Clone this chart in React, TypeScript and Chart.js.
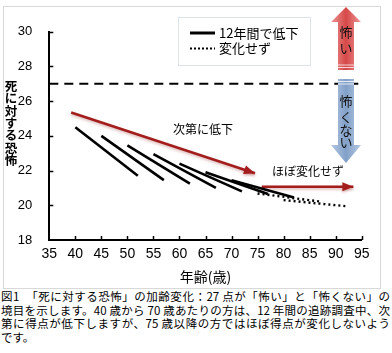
import React, { useEffect, useRef } from "react";
import { Chart, registerables } from "chart.js";

Chart.register(...registerables);

// ---------- data ----------
const xTickValues = [35, 40, 45, 50, 55, 60, 65, 70, 75, 80, 85, 90, 95];
const yTickValues = [18, 20, 22, 24, 26, 28, 30];

const declineStartAges = [40, 45, 50, 55, 60, 65, 70];
const declineEndAges = [52, 57, 62, 67, 72, 77, 82];
const declineStartScores = [24.5, 24.0, 23.45, 22.95, 22.4, 21.9, 21.45];
const declineEndScores = [21.7, 21.45, 21.25, 21.0, 20.8, 20.65, 20.45];

const flatStartAges = [75, 80];
const flatEndAges = [87, 92];
const flatStartScores = [20.68, 20.3];
const flatEndScores = [20.22, 19.95];

const boundaryScore = 27;
const boundaryAges = [35, 95];

const trendArrowAges = [
  [39.2, 74.5],
  [75.8, 93.4],
];
const trendArrowScores = [
  [25.35, 21.85],
  [21.07, 21.07],
];

const legendLabels = ["12年間で低下", "変化せず"];
const yTitle = "死に対する恐怖";
const xTitle = "年齢(歳)";
const declineLabel = "次第に低下";
const flatLabel = "ほぼ変化せず";
const scaryChars = ["怖", "い"];
const notScaryChars = ["怖", "く", "な", "い"];
const captionLines = [
  "図1　「死に対する恐怖」の加齢変化：27 点が「怖い」と「怖くない」の",
  "境目を示します。40 歳から 70 歳あたりの方は、12 年間の追跡調査中、次",
  "第に得点が低下しますが、75 歳以降の方ではほぼ得点が変化しないよう",
  "です。",
];

const CJK = '"Noto Sans CJK JP", "Noto Sans", sans-serif';
const NUM = '"Liberation Sans Narrow", "Liberation Sans", Arial, sans-serif';
const RED = "#a31d1d";

function bigArrow(
  ctx: CanvasRenderingContext2D,
  cx: number,
  tipY: number,
  headY: number,
  endY: number,
  halfShaft: number,
  halfHead: number,
  dark: string,
  light: string
) {
  const g = ctx.createLinearGradient(cx - halfHead, 0, cx + halfHead, 0);
  g.addColorStop(0, light);
  g.addColorStop(0.5, dark);
  g.addColorStop(1, light);
  ctx.save();
  ctx.fillStyle = g;
  ctx.beginPath();
  ctx.moveTo(cx, tipY);
  ctx.lineTo(cx + halfHead, headY);
  ctx.lineTo(cx + halfShaft, headY);
  ctx.lineTo(cx + halfShaft, endY);
  ctx.lineTo(cx - halfShaft, endY);
  ctx.lineTo(cx - halfShaft, headY);
  ctx.lineTo(cx - halfHead, headY);
  ctx.closePath();
  ctx.fill();
  ctx.strokeStyle = "rgba(255,255,255,0.75)";
  ctx.lineWidth = 1;
  const dir = endY > headY ? -1 : 1;
  for (const off of [2.5, 5]) {
    ctx.beginPath();
    ctx.moveTo(cx - halfShaft, endY + dir * off);
    ctx.lineTo(cx + halfShaft, endY + dir * off);
    ctx.stroke();
  }
  ctx.restore();
}

const overlayPlugin = {
  id: "overlay",
  beforeDatasetDraw(chart: any, args: any) {
    const ds = chart.data.datasets[args.index];
    if (ds.kind === "trend") {
      const ctx = chart.ctx;
      ctx.save();
      ctx.shadowColor = "rgba(150,40,40,0.35)";
      ctx.shadowBlur = 3;
      ctx.shadowOffsetY = 1.5;
    }
  },
  afterDatasetDraw(chart: any, args: any) {
    const ds = chart.data.datasets[args.index];
    if (ds.kind !== "trend") return;
    const ctx = chart.ctx;
    const meta = chart.getDatasetMeta(args.index);
    const p0 = meta.data[0];
    const p1 = meta.data[1];
    const ang = Math.atan2(p1.y - p0.y, p1.x - p0.x);
    const len = 11;
    const hw = 4.5;
    ctx.fillStyle = RED;
    ctx.beginPath();
    ctx.moveTo(p1.x, p1.y);
    ctx.lineTo(
      p1.x - len * Math.cos(ang) + hw * Math.sin(ang),
      p1.y - len * Math.sin(ang) - hw * Math.cos(ang)
    );
    ctx.lineTo(
      p1.x - len * Math.cos(ang) - hw * Math.sin(ang),
      p1.y - len * Math.sin(ang) + hw * Math.cos(ang)
    );
    ctx.closePath();
    ctx.fill();
    ctx.restore();
  },
  afterDraw(chart: any) {
    const ctx: CanvasRenderingContext2D = chart.ctx;
    const xs = chart.scales.x;
    const ys = chart.scales.y;
    const area = chart.chartArea;
    ctx.save();

    // inner tick marks
    ctx.strokeStyle = "#000";
    ctx.lineWidth = 1.5;
    xTickValues.forEach((v) => {
      if (v === xTickValues[0]) return;
      const px = Math.round(xs.getPixelForValue(v)) + 0.5;
      ctx.beginPath();
      ctx.moveTo(px, area.bottom);
      ctx.lineTo(px, area.bottom - 4);
      ctx.stroke();
    });
    yTickValues.forEach((v) => {
      if (v === yTickValues[0]) return;
      const py = Math.round(ys.getPixelForValue(v)) + 0.5;
      ctx.beginPath();
      ctx.moveTo(area.left, py);
      ctx.lineTo(area.left + 4, py);
      ctx.stroke();
    });

    // vertical stacked y title
    ctx.fillStyle = "#000";
    ctx.font = `bold 12.5px ${CJK}`;
    ctx.textAlign = "center";
    ctx.textBaseline = "middle";
    Array.from(yTitle).forEach((ch, i) => {
      ctx.fillText(ch, 7, 79 + i * 12.4);
    });

    // legend
    ctx.save();
    ctx.strokeStyle = "#b8c6da";
    ctx.lineWidth = 1;
    ctx.setLineDash([1, 1]);
    ctx.strokeRect(174.5, 10.5, 132, 48);
    ctx.restore();
    ctx.strokeStyle = "#000";
    ctx.lineWidth = 3;
    ctx.beginPath();
    ctx.moveTo(186, 26);
    ctx.lineTo(211, 26);
    ctx.stroke();
    ctx.save();
    ctx.lineWidth = 2;
    ctx.setLineDash([2, 2]);
    ctx.beginPath();
    ctx.moveTo(186, 41.5);
    ctx.lineTo(211, 41.5);
    ctx.stroke();
    ctx.restore();
    ctx.font = `13px ${CJK}`;
    ctx.textAlign = "left";
    ctx.fillText(legendLabels[0], 215, 26);
    ctx.fillText(legendLabels[1], 215, 41.5);

    // annotation labels
    ctx.font = `12px ${CJK}`;
    ctx.fillText(declineLabel, 169, 122);
    ctx.fillText(flatLabel, 268, 164.5);

    // big up / down arrows
    bigArrow(ctx, 342, 0, 15, 63, 8, 15, "rgb(214,72,72)", "rgb(238,150,150)");
    bigArrow(ctx, 342, 156, 138, 72, 8, 15, "rgb(130,160,200)", "rgb(180,200,226)");
    ctx.fillStyle = "#111";
    ctx.font = `13px ${CJK}`;
    ctx.textAlign = "center";
    [25.5, 41].forEach((y, i) => ctx.fillText(scaryChars[i], 342, y));
    [94, 109.7, 123, 135.5].forEach((y, i) => ctx.fillText(notScaryChars[i], 342, y));

    ctx.restore();
  },
};

function line(ages: number[], scores: number[], extra: Record<string, any>) {
  return {
    data: ages.map((a, i) => ({ x: a, y: scores[i] })),
    pointRadius: 0,
    fill: false,
    tension: 0,
    ...extra,
  };
}

export default function App() {
  const ref = useRef<HTMLCanvasElement | null>(null);

  useEffect(() => {
    if (!ref.current) return;
    const datasets: any[] = [];
    datasets.push(
      line(boundaryAges, [boundaryScore, boundaryScore], {
        borderColor: "#000",
        borderWidth: 2,
        borderDash: [9, 6],
        kind: "boundary",
      })
    );
    flatStartAges.forEach((a, i) => {
      datasets.push(
        line([a, flatEndAges[i]], [flatStartScores[i], flatEndScores[i]], {
          borderColor: "#000",
          borderWidth: 2.4,
          borderDash: [2, 3],
          kind: "flat",
        })
      );
    });
    declineStartAges.forEach((a, i) => {
      datasets.push(
        line([a, declineEndAges[i]], [declineStartScores[i], declineEndScores[i]], {
          borderColor: "#000",
          borderWidth: 2.6,
          kind: "decline",
        })
      );
    });
    trendArrowAges.forEach((ages, i) => {
      datasets.push(
        line(ages, trendArrowScores[i], {
          borderColor: RED,
          borderWidth: 2.6,
          kind: "trend",
        })
      );
    });

    const chart = new Chart(ref.current, {
      type: "line",
      data: { datasets },
      plugins: [overlayPlugin],
      options: {
        animation: false,
        responsive: false,
        layout: { padding: { left: 0, top: 14, right: 18.3, bottom: 0 } },
        plugins: {
          legend: { display: false },
          tooltip: { enabled: false },
        },
        scales: {
          x: {
            type: "linear",
            min: xTickValues[0],
            max: xTickValues[xTickValues.length - 1],
            afterBuildTicks: (s: any) => {
              s.ticks = xTickValues.map((v) => ({ value: v }));
            },
            afterFit: (s: any) => {
              s.height = 48;
            },
            grid: { display: false, drawTicks: false },
            border: { display: true, color: "#000", width: 2 },
            ticks: {
              color: "#000",
              font: { family: NUM, size: 14 },
              padding: 6,
              maxRotation: 0,
              autoSkip: false,
            },
            title: {
              display: true,
              text: xTitle,
              color: "#000",
              font: { family: CJK, size: 14 },
              padding: { top: 0, bottom: 3 },
            },
          },
          y: {
            type: "linear",
            min: yTickValues[0],
            max: yTickValues[yTickValues.length - 1],
            afterBuildTicks: (s: any) => {
              s.ticks = yTickValues.map((v) => ({ value: v }));
            },
            afterFit: (s: any) => {
              s.width = 45.3;
            },
            grid: { display: false, drawTicks: false },
            border: { display: true, color: "#000", width: 2 },
            ticks: {
              color: "#000",
              font: { family: NUM, size: 13 },
              padding: 17,
              autoSkip: false,
            },
          },
        },
      } as any,
    });
    return () => chart.destroy();
  }, []);

  return (
    <div
      style={{
        position: "absolute",
        left: 0,
        top: 0,
        width: 392,
        height: 353,
        background: "#fff",
        overflow: "hidden",
      }}
    >
      <div
        style={{
          position: "absolute",
          left: 3,
          top: 6,
          width: 378,
          height: 283,
          border: "1px solid #d9d9d9",
          boxSizing: "border-box",
        }}
      >
        <canvas
          ref={ref}
          width={376}
          height={281}
          style={{ width: 376, height: 281, display: "block" }}
        />
      </div>
      <div
        style={{
          position: "absolute",
          left: 1,
          top: 290,
          width: 389,
          fontFamily: CJK,
          fontSize: 11.5,
          lineHeight: "13.7px",
          color: "#000",
        }}
      >
        {captionLines.map((t, i) => {
          const last = i === captionLines.length - 1;
          return (
            <div
              key={i}
              style={{
                textAlign: last ? "left" : "justify",
                textAlignLast: last ? "left" : "justify",
                textJustify: "inter-character",
                height: "13.7px",
                overflow: "visible",
              } as any}
            >
              {t}
            </div>
          );
        })}
      </div>
    </div>
  );
}
